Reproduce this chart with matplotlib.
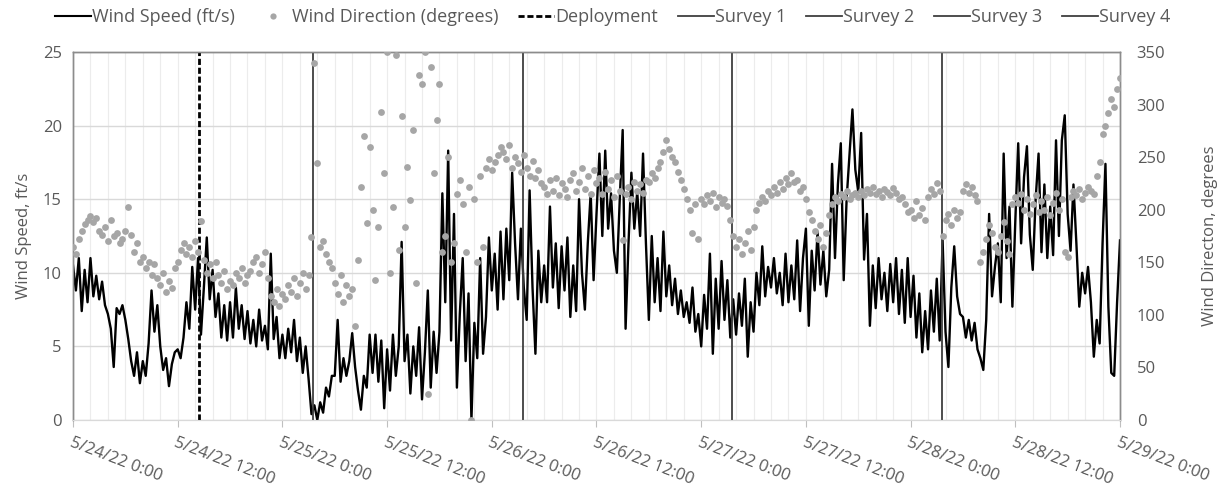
import numpy as np
import pandas as pd
import matplotlib
matplotlib.use("Agg")
import matplotlib.pyplot as plt
import matplotlib.dates as mdates
from matplotlib.lines import Line2D

plt.rcParams['font.family'] = ['Open Sans', 'DejaVu Sans']

# 20-minute records, 5/24/22 0:00 through 5/29/22 0:00
times = pd.date_range('2022-05-24 00:00', periods=361, freq='20min')

wind_speed = [
    10.5, 8.8, 11.0, 7.4, 10.2, 8.0, 11.0, 8.4, 9.8, 8.2, 9.4, 7.8, 7.2, 6.2, 3.6, 7.6, 7.2, 7.8,
    6.8, 5.5, 4.0, 3.0, 4.6, 2.5, 4.0, 3.0, 5.2, 8.8, 6.0, 7.8, 5.0, 3.4, 4.2, 2.3, 3.8, 4.6,
    4.8, 4.2, 5.6, 8.0, 6.2, 10.4, 7.5, 11.0, 5.8, 9.0, 12.4, 8.2, 10.2, 7.0, 8.6, 5.6, 7.8, 5.4,
    8.0, 5.6, 9.0, 6.2, 7.8, 5.5, 7.4, 5.2, 6.8, 5.0, 7.5, 5.4, 6.4, 4.8, 11.3, 5.5, 7.0, 4.2,
    5.8, 4.2, 6.2, 4.6, 6.8, 4.0, 5.6, 3.2, 5.0, 2.8, 0.4, 1.0, 0.0, 1.2, 0.5, 2.2, 1.6, 3.0,
    3.0, 6.8, 2.6, 4.2, 3.0, 4.0, 5.9, 3.6, 2.0, 0.7, 3.0, 2.2, 5.8, 3.2, 5.8, 2.6, 5.4, 0.8,
    4.8, 2.0, 5.8, 3.0, 5.0, 12.1, 4.0, 5.8, 1.8, 5.0, 3.0, 6.3, 1.4, 4.6, 8.8, 2.2, 6.0, 3.2,
    6.0, 15.4, 8.0, 18.3, 5.4, 14.0, 2.2, 7.2, 11.0, 4.0, 8.6, 0.0, 6.6, 4.2, 11.0, 4.5, 7.0, 12.4,
    8.8, 11.3, 7.5, 12.8, 8.2, 13.0, 9.5, 16.8, 12.0, 8.2, 13.0, 9.0, 6.8, 15.6, 9.0, 4.5, 11.5, 8.0,
    10.5, 8.0, 14.5, 9.0, 12.0, 7.6, 11.8, 8.8, 12.4, 7.0, 10.5, 7.4, 15.0, 10.0, 7.5, 12.0, 15.4, 9.5,
    14.0, 18.1, 12.5, 18.3, 13.0, 15.4, 11.5, 10.0, 15.0, 19.7, 6.2, 12.0, 16.8, 13.0, 15.5, 12.5, 18.1, 12.0,
    6.8, 12.5, 8.0, 11.0, 7.4, 12.8, 8.4, 10.5, 7.8, 9.6, 7.2, 8.8, 7.0, 8.0, 6.6, 9.0, 6.0, 7.2,
    5.0, 8.5, 6.2, 11.3, 4.5, 9.6, 6.2, 10.8, 6.8, 9.5, 5.6, 8.2, 5.8, 8.6, 6.4, 9.6, 4.3, 8.0,
    6.0, 10.0, 7.8, 11.8, 8.4, 10.4, 9.0, 11.0, 8.6, 10.0, 7.8, 11.3, 8.0, 10.5, 8.2, 12.2, 7.4, 11.0,
    13.0, 6.4, 11.5, 8.8, 12.8, 9.2, 11.5, 8.4, 10.2, 17.4, 11.0, 16.0, 18.8, 9.5, 15.0, 18.0, 21.1, 17.0,
    15.5, 19.5, 10.9, 14.0, 6.4, 10.5, 7.6, 11.0, 8.2, 10.0, 7.4, 10.6, 8.0, 11.0, 7.2, 10.2, 6.6, 11.0,
    7.0, 9.8, 5.6, 8.6, 4.6, 7.4, 4.8, 8.8, 6.0, 9.6, 5.4, 12.2, 6.0, 3.6, 9.0, 11.8, 8.4, 7.2,
    7.0, 5.6, 6.8, 5.4, 6.6, 4.8, 4.2, 3.4, 6.8, 14.0, 8.4, 10.4, 12.0, 8.0, 18.1, 11.0, 14.5, 7.7,
    13.5, 18.8, 12.0, 16.5, 18.6, 12.6, 10.2, 15.0, 18.1, 11.4, 16.0, 11.0, 14.5, 11.2, 19.0, 12.5, 19.0, 20.7,
    14.0, 11.5, 16.0, 12.0, 7.7, 10.0, 8.6, 10.4, 8.0, 4.3, 6.8, 5.2, 12.0, 17.4, 7.7, 3.2, 3.0, 8.0,
    12.2,
]

wind_dir = [
    165, 158, 172, 180, 186, 190, 194, 188, 192, 180, 176, 184, 170, 190, 175, 178, 168, 172,
    180, 203, 176, 160, 168, 150, 155, 145, 150, 138, 148, 135, 128, 140, 122, 132, 126, 145,
    150, 162, 168, 158, 165, 155, 170, 160, 189, 152, 140, 148, 135, 150, 138, 130, 142, 125,
    132, 128, 140, 135, 145, 130, 138, 142, 150, 155, 140, 148, 160, 135, 118, 112, 125, 108,
    120, 115, 128, 122, 135, 118, 130, 140, 125, 138, 174, 340, 244, 165, 170, 158, 150, 145,
    130, 120, 138, 112, 128, 118, 125, 89, 152, 222, 270, 187, 260, 200, 133, 184, 293, 235,
    350, 140, 203, 347, 162, 289, 184, 241, 209, 276, 130, 328, 320, 350, 25, 336, 235, 285,
    320, 160, 175, 250, 150, 168, 215, 228, 205, 160, 222, 0, 210, 150, 232, 165, 240, 248,
    238, 245, 252, 260, 255, 248, 262, 240, 250, 244, 236, 252, 240, 232, 246, 230, 238, 225,
    222, 215, 228, 218, 230, 214, 225, 220, 212, 228, 235, 218, 226, 240, 220, 232, 215, 238,
    225, 230, 215, 236, 220, 228, 212, 232, 218, 171, 215, 222, 210, 226, 218, 224, 216, 228,
    226, 235, 230, 240, 245, 255, 266, 258, 250, 245, 236, 228, 220, 210, 200, 178, 205, 172,
    210, 205, 214, 208, 216, 203, 212, 206, 210, 204, 190, 175, 165, 172, 158, 168, 180, 162,
    184, 200, 206, 212, 208, 218, 214, 222, 216, 226, 220, 230, 224, 235, 226, 228, 218, 222,
    210, 198, 190, 180, 172, 185, 165, 178, 195, 205, 212, 208, 215, 212, 218, 210, 214, 216,
    212, 218, 214, 220, 216, 222, 215, 218, 212, 220, 217, 214, 221, 216, 210, 212, 205, 198,
    200, 192, 208, 195, 202, 190, 212, 220, 215, 225, 218, 175, 190, 196, 185, 200, 192, 198,
    218, 224, 216, 222, 214, 208, 150, 160, 172, 185, 178, 165, 160, 175, 188, 170, 158, 205,
    212, 206, 215, 200, 210, 196, 205, 214, 198, 208, 200, 212, 195, 206, 216, 200, 210, 160,
    155, 212, 218, 214, 220, 210, 216, 222, 218, 215, 232, 245, 272, 280, 292, 305, 298, 315,
    325,
]

deployment = pd.Timestamp('2022-05-24 14:29')
surveys = pd.to_datetime(['2022-05-25 03:28', '2022-05-26 03:32',
                          '2022-05-27 03:32', '2022-05-28 03:34'])
survey_names = ['Survey 1', 'Survey 2', 'Survey 3', 'Survey 4']

tick_times = pd.date_range('2022-05-24 00:00', '2022-05-29 00:00', freq='12h')
tick_labels = ['5/24/22 0:00', '5/24/22 12:00', '5/25/22 0:00', '5/25/22 12:00',
               '5/26/22 0:00', '5/26/22 12:00', '5/27/22 0:00', '5/27/22 12:00',
               '5/28/22 0:00', '5/28/22 12:00', '5/29/22 0:00']

txt = '#595959'
dot_color = '#a6a6a6'
survey_color = '#3f3f3f'

fig = plt.figure(figsize=(12.31, 4.95), dpi=100)
ax = fig.add_axes([73 / 1231, 75 / 495, 1047 / 1231, 368 / 495])
ax2 = ax.twinx()

# speed trace and event markers on the primary axis
ax.plot(times, wind_speed, color='black', lw=1.7, zorder=3)
ax.axvline(deployment, color='black', lw=2, ls=(0, (2.2, 1.0)), zorder=4)
for t in surveys:
    ax.axvline(t, color=survey_color, lw=1.3, zorder=4)

# direction dots on the secondary axis
ax2.scatter(times, wind_dir, s=24, color=dot_color, linewidths=0, zorder=3)

ax.set_xlim(tick_times[0], tick_times[-1])
ax.set_ylim(0, 25)
ax2.set_ylim(0, 350)
ax.set_yticks(np.arange(0, 26, 5))
ax2.set_yticks(np.arange(0, 351, 50))

ax.set_xticks(tick_times)
ax.set_xticklabels(tick_labels, rotation=-21, ha='left', va='top',
                   rotation_mode='anchor', fontsize=12, color=txt)
ax.xaxis.set_minor_locator(mdates.HourLocator(interval=2))
ax.tick_params(axis='x', which='major', length=5, color='#bfbfbf', pad=6)
ax.tick_params(axis='x', which='minor', length=0)
ax.tick_params(axis='y', length=0, labelsize=12, labelcolor=txt, pad=8)
ax2.tick_params(axis='y', length=0, labelsize=12, labelcolor=txt, pad=12)

ax.grid(axis='y', color='#d9d9d9', lw=1)
ax.grid(axis='x', which='both', color='#ececec', lw=0.8)
ax.set_axisbelow(True)

for a in (ax, ax2):
    for side in ('left', 'right', 'top'):
        a.spines[side].set_color('#8c8c8c')
        a.spines[side].set_linewidth(1)
    a.spines['bottom'].set_color('#d9d9d9')

ax.set_ylabel('Wind Speed, ft/s', fontsize=12, color=txt, labelpad=8)
ax2.set_ylabel('Wind Directon, degrees', fontsize=12, color=txt, labelpad=26)

handles = [
    Line2D([], [], color='black', lw=1.5),
    Line2D([], [], ls='none', marker='o', ms=4.5, color=dot_color, mec='none'),
    Line2D([], [], color='black', lw=2, ls=(0, (2.2, 1.0))),
] + [Line2D([], [], color=survey_color, lw=1.3) for _ in survey_names]
labels = ['Wind Speed (ft/s)', 'Wind Direction (degrees)', 'Deployment'] + survey_names
fig.legend(handles, labels, loc='center', bbox_to_anchor=(613 / 1231, 1 - 17 / 495),
           ncol=7, frameon=False, fontsize=13, handlelength=2.0, handletextpad=0.05,
           columnspacing=1.1, labelcolor=txt)

fig.savefig('out.png', dpi=100)
